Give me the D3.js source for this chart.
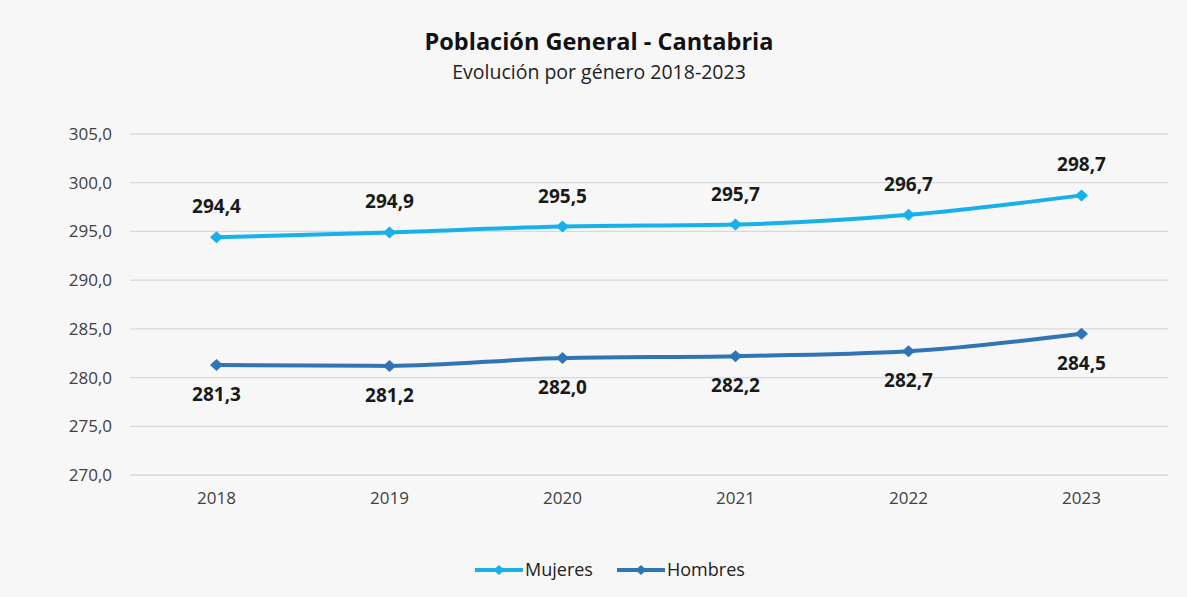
<!DOCTYPE html>
<html lang="es">
<head>
<meta charset="UTF-8">
<script src="https://d3js.org/d3.v7.min.js"></script>
<style>
    body { margin: 0; background: #f7f7f7; }
    svg { font-family: "Open Sans", "Noto Sans", sans-serif; }
    .tick-label { font-size: 17px; fill: #404040; }
    .val { font-size: 19px; font-weight: bold; fill: #1a1a1a; text-anchor: middle; }
</style>
</head>
<body>
<svg id="chart" width="1187" height="597"></svg>
<script>
    const years = ["2018", "2019", "2020", "2021", "2022", "2023"];
    const mujeres = [294.4, 294.9, 295.5, 295.7, 296.7, 298.7];
    const hombres = [281.3, 281.2, 282.0, 282.2, 282.7, 284.5];
    const yTicks = [270, 275, 280, 285, 290, 295, 300, 305];

    const series = [
        { name: "Mujeres", values: mujeres, color: "#17b0ea", labelDy: -24 },
        { name: "Hombres", values: hombres, color: "#2f74b5", labelDy: 36 }
    ];

    const svg = d3.select("#chart");
    const fmt = v => d3.format(".1f")(v).replace(".", ",");

    const x = d3.scalePoint().domain(years).range([130, 1168]).padding(0.5);
    const y = d3.scaleLinear().domain([270, 305]).range([475, 134]);

    svg.append("rect").attr("width", 1187).attr("height", 597).attr("fill", "#f7f7f7");

    // titulo
    svg.append("text").attr("x", 599).attr("y", 50).attr("text-anchor", "middle")
        .style("font-size", "23.5px").style("font-weight", "bold").style("fill", "#111")
        .text("Población General - Cantabria");
    svg.append("text").attr("x", 599).attr("y", 79).attr("text-anchor", "middle")
        .style("font-size", "19.5px").style("fill", "#222")
        .text("Evolución por género 2018-2023");

    // rejilla
    svg.selectAll("line.grid").data(yTicks).join("line")
        .attr("class", "grid")
        .attr("x1", 130).attr("x2", 1168)
        .attr("y1", d => y(d)).attr("y2", d => y(d))
        .attr("stroke", "#d9d9d9").attr("stroke-width", 1.3);

    svg.selectAll("text.ylab").data(yTicks).join("text")
        .attr("class", "tick-label ylab")
        .attr("x", 112).attr("y", d => y(d) + 6)
        .attr("text-anchor", "end")
        .text(d => fmt(d));

    svg.selectAll("text.xlab").data(years).join("text")
        .attr("class", "tick-label xlab")
        .attr("x", d => x(d)).attr("y", 504)
        .attr("text-anchor", "middle")
        .text(d => d);

    const line = d3.line()
        .x((d, i) => x(years[i]))
        .y(d => y(d))
        .curve(d3.curveMonotoneX);

    // rombo algo mas ancho que alto, como el de Excel
    const diamond = (w, h) => `M${-w},0L0,${-h}L${w},0L0,${h}Z`;

    series.forEach(s => {
        const g = svg.append("g");
        g.append("path").datum(s.values)
            .attr("d", line)
            .attr("fill", "none")
            .attr("stroke", s.color)
            .attr("stroke-width", 4);
        g.selectAll("path.mk").data(s.values).join("path")
            .attr("class", "mk")
            .attr("d", diamond(6.5, 6))
            .attr("transform", (d, i) => `translate(${x(years[i])},${y(d)})`)
            .attr("fill", s.color);
        g.selectAll("text.val").data(s.values).join("text")
            .attr("class", "val")
            .attr("x", (d, i) => x(years[i]))
            .attr("y", d => y(d) + s.labelDy)
            .text(d => fmt(d));
    });

    // leyenda
    const legend = svg.append("g");
    const lx = [475, 617];
    series.forEach((s, i) => {
        const g = legend.append("g").attr("transform", `translate(${lx[i]},570)`);
        g.append("line").attr("x1", 0).attr("x2", 48).attr("y1", 0).attr("y2", 0)
            .attr("stroke", s.color).attr("stroke-width", 4);
        g.append("path").attr("d", diamond(5.5, 5))
            .attr("transform", "translate(24,0)").attr("fill", s.color);
        g.append("text").attr("x", 50).attr("y", 6)
            .style("font-size", "18px").style("fill", "#222")
            .text(s.name);
    });
</script>
</body>
</html>
